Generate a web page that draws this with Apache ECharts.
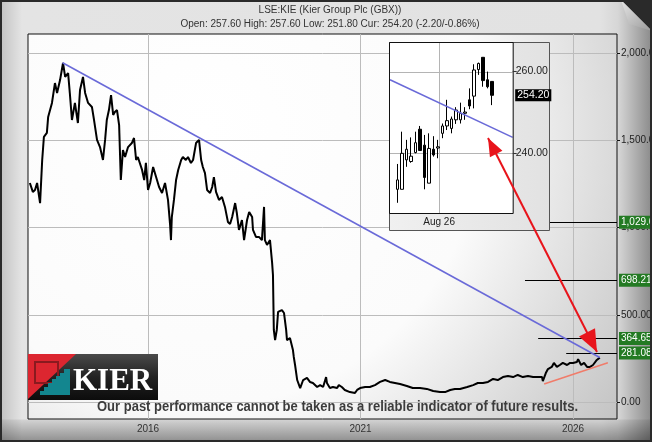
<!DOCTYPE html>
<html><head><meta charset="utf-8">
<script src="https://cdn.jsdelivr.net/npm/echarts@6/dist/echarts.min.js"></script>
<style>
html,body{margin:0;padding:0;background:#fff;}
#c{width:652px;height:442px;
background:
 linear-gradient(to bottom, rgba(0,0,0,0) 0px, rgba(0,0,0,0) 419px, rgba(0,0,0,0.08) 420px, rgba(0,0,0,0.38) 442px),
 linear-gradient(to right, #c2c2c2 0px, #e4e4e4 22px, #e2e2e2 600px, #d6d6d6 618px, #8a8a8a 652px);}
</style></head><body><div id="c"></div>
<script>
// ---- main price series (GBX) ----
const priceYears = [2013.22,2013.29,2013.34,2013.39,2013.46,2013.51,2013.55,2013.62,2013.65,2013.74,
2013.81,2013.86,2013.93,2014.00,2014.05,2014.12,2014.16,2014.21,2014.28,2014.35,
2014.40,2014.47,2014.52,2014.59,2014.68,2014.73,2014.80,2014.87,2014.94,2014.99,
2015.03,2015.08,2015.13,2015.18,2015.22,2015.27,2015.32,2015.36,2015.41,2015.46,
2015.53,2015.62,2015.67,2015.72,2015.76,2015.86,2015.91,2015.95,2016.00,2016.05,
2016.12,2016.19,2016.26,2016.33,2016.40,2016.47,2016.52,2016.54,2016.56,2016.61,
2016.66,2016.71,2016.78,2016.82,2016.89,2016.94,2017.01,2017.06,2017.13,2017.20,
2017.25,2017.29,2017.34,2017.39,2017.46,2017.51,2017.55,2017.60,2017.67,2017.74,
2017.81,2017.88,2017.93,2017.98,2018.05,2018.09,2018.14,2018.21,2018.26,2018.33,
2018.38,2018.45,2018.47,2018.54,2018.61,2018.68,2018.73,2018.75,2018.80,2018.87,
2018.92,2018.94,2018.96,2018.99,2019.03,2019.06,2019.15,2019.20,2019.25,2019.27,
2019.34,2019.41,2019.43,2019.46,2019.51,2019.58,2019.62,2019.65,2019.74,2019.81,
2019.88,2019.98,2020.05,2020.12,2020.19,2020.21,2020.28,2020.35,2020.45,2020.49,
2020.56,2020.63,2020.75,2020.87,2020.92,2020.99,2021.11,2021.22,2021.34,2021.46,
2021.58,2021.69,2021.81,2021.93,2022.09,2022.23,2022.40,2022.56,2022.71,2022.87,
2022.99,2023.11,2023.22,2023.34,2023.51,2023.65,2023.76,2023.88,2024.00,2024.12,
2024.23,2024.35,2024.47,2024.59,2024.70,2024.82,2024.94,2025.06,2025.18,2025.27,
2025.29,2025.36,2025.41,2025.50,2025.55,2025.62,2025.69,2025.76,2025.86,2025.93,
2026.00,2026.09,2026.12,2026.19,2026.26,2026.33,2026.40,2026.47,2026.56,2026.63];
const priceValues = [1255,1204,1215,1255,1140,1387,1519,1542,1633,1714,
1828,1771,1845,1943,1863,1885,1771,1616,1714,1599,
1788,1863,1771,1714,1691,1616,1502,1461,1387,1502,
1616,1673,1759,1645,1662,1673,1587,1272,1444,1404,
1461,1484,1513,1387,1404,1330,1272,1370,1215,1255,
1347,1289,1232,1198,1255,1158,1014,928,1060,1158,
1272,1330,1387,1404,1387,1404,1370,1387,1484,1502,
1387,1347,1312,1215,1198,1232,1289,1204,1158,1175,
1118,1032,1020,1060,1140,1083,986,1043,928,1043,
1089,1060,986,946,946,928,1118,928,900,928,
797,728,413,355,413,516,527,510,413,355,
367,298,258,212,126,80,69,126,138,115,
109,86,97,86,143,109,80,86,80,97,
86,69,57,52,69,80,86,86,97,115,
126,115,109,103,92,80,80,75,63,57,
57,69,75,75,86,97,109,109,115,132,
126,143,149,143,155,143,149,143,143,143,
120,166,189,201,224,201,212,224,212,224,
224,229,246,212,224,201,201,212,241,254.2];

// ---- trend lines ----
const blueTrendYears = [2013.99, 2026.63];
const blueTrendValues = [1944, 255];
const redTrendYears = [2025.32, 2026.82];
const redTrendValues = [103, 225];

// ---- target levels ----
const levelValues = [1029.60, 698.21, 364.65, 281.08];
const levelStartYears = [2025.41, 2024.87, 2025.18, 2025.84];
const levelLabels = ['1,029.60', '698.21', '364.65', '281.08'];
const currentPrice = 254.20;
const currentLabel = '254.20';

// ---- axes ----
const yTickValues = [0, 500, 1000, 1500, 2000];
const yTickLabels = ['0.00', '500.00', '1,000.00', '1,500.00', '2,000.00'];
const xTickValues = [2016, 2021, 2026];
const xTickLabels = ['2016', '2021', '2026'];

// ---- inset candles (trading days, Jul-Aug 2026) ----
const insetIndex = [0,1,2,3,4,5,6,7,8,9,10,11,12,13,14,15,16,17,18,19,20,21];
const insetOpen  = [231.2,231.2,238.4,238.0,240.2,245.9,242.0,232.7,241.0,241.3,244.9,246.7,246.1,248.2,248.2,249.8,253.1,254.0,260.5,263.5,258.0,257.6];
const insetClose = [233.5,240.0,241.0,239.3,242.6,240.7,234.1,241.2,239.6,241.6,246.7,248.0,248.4,250.6,249.8,250.1,251.6,260.4,262.0,257.8,256.3,254.2];
const insetLow   = [227.9,231.2,236.7,237.7,240.0,240.7,231.2,232.7,239.2,238.8,243.7,245.7,244.9,247.2,247.3,248.2,250.8,251.0,259.2,256.3,255.9,251.8];
const insetHigh  = [237.4,245.3,243.3,243.9,245.3,246.7,244.5,244.9,244.2,243.3,247.3,253.1,249.0,251.3,252.4,251.3,255.9,261.8,262.2,263.5,260.0,257.6];
const insetYTickValues = [240, 260];
const insetYTickLabels = ['240.00', '260.00'];
const insetXTickValues = [9.3];
const insetXTickLabels = ['Aug 26'];
const insetTrendX = [-1.62, 25.65];
const insetTrendValues = [258.0, 243.9];

const titleLine1 = 'LSE:KIE (Kier Group Plc (GBX))';
const titleLine2 = 'Open: 257.60 High: 257.60 Low: 251.80 Cur: 254.20 (-2.20/-0.86%)';
const disclaimer = 'Our past performance cannot be taken as a reliable indicator of future results.';

// ---------------------------------------------------------------
const X_MIN = 2013.176, X_MAX = 2027.035;
const Y_MIN = -97.4, Y_MAX = 2109;
const IX_MIN = -1.62, IX_MAX = 25.65;
const IY_MIN = 225.4, IY_MAX = 267;
const INSET = {left: 390, top: 43, width: 122.7, height: 170};
// linear scales of the inset axes (same ranges as the inset xAxis / yAxis below)
const insetPX = x => INSET.left + (x - IX_MIN) / (IX_MAX - IX_MIN) * INSET.width;
const insetPY = y => INSET.top + (IY_MAX - y) / (IY_MAX - IY_MIN) * INSET.height;

const chart = echarts.init(document.getElementById('c'), null, {renderer: 'canvas'});

const priceData = priceYears.map((y, i) => [y, priceValues[i]]);
const blueData = blueTrendYears.map((y, i) => [y, blueTrendValues[i]]);
const redData = redTrendYears.map((y, i) => [y, redTrendValues[i]]);
const candleData = insetIndex.map((d, i) => [d, insetOpen[i], insetClose[i], insetLow[i], insetHigh[i]]);
const insetTrend = insetTrendX.map((x, i) => [x, insetTrendValues[i]]);

const gridLineStyle = {color: '#bcbcbc', width: 1, type: 'solid'};
const hLine = (v, x0, x1) => [{coord: [x0, v]}, {coord: [x1, v]}];
const vLine = (v, y0, y1) => [{coord: [v, y0]}, {coord: [v, y1]}];
const mainGridLines = yTickValues.map(v => hLine(v, X_MIN, X_MAX))
  .concat(xTickValues.map(v => vLine(v, Y_MIN, Y_MAX)));

const levelLines = [[
  {coord: [X_MAX - 0.12, currentPrice], lineStyle: {opacity: 0},
   label: {formatter: currentLabel, backgroundColor: '#000'}},
  {coord: [X_MAX, currentPrice]}
]].concat(levelValues.map((v, i) => [
  {coord: [levelStartYears[i], v], label: {formatter: levelLabels[i]}},
  {coord: [X_MAX, v]}
]));

function arrowHead(tx, ty, fx, fy, len, half) {
  const dx = tx - fx, dy = ty - fy, L = Math.hypot(dx, dy);
  const ux = dx / L, uy = dy / L;
  const bx = tx - ux * len, by = ty - uy * len;
  return [[tx, ty], [bx - uy * half, by + ux * half], [bx + uy * half, by - ux * half]];
}
const aTop = [488, 138], aBot = [597, 352];

// scale disclaimer to the reference's width
const discFont = 'bold 14px "Liberation Sans", Arial, sans-serif';
const mctx = document.createElement('canvas').getContext('2d');
mctx.font = discFont;
const discScale = 481 / mctx.measureText(disclaimer).width;

// inset grid lines drawn as thin rects (1px high / wide)
const insetGridGraphics = insetYTickValues.map(v => {
  const yy = Math.round(insetPY(v));
  return {type: 'rect', z: 5, silent: true, shape: {x: INSET.left, y: yy, width: INSET.width, height: 1},
    style: {fill: '#b4b4b4'}};
}).concat(insetXTickValues.map(v => {
  const xx = Math.round(insetPX(v));
  return {type: 'rect', z: 5, silent: true, shape: {x: xx, y: INSET.top, width: 1, height: INSET.height},
    style: {fill: '#b4b4b4'}};
}));

const graphicElements = [
    // inset panel + white plot area
    {type: 'rect', shape: {x: 389.5, y: 42.5, width: 160, height: 188}, z: 3,
     style: {fill: {type: 'linear', x: 0, y: 0, x2: 1, y2: 0, colorStops: [
       {offset: 0, color: '#f0f0f0'}, {offset: 1, color: '#e2e2e2'}]}, stroke: '#555', lineWidth: 1}},
    {type: 'rect', shape: {x: INSET.left, y: INSET.top, width: INSET.width, height: INSET.height}, z: 4,
     style: {fill: '#ffffff'}},
    {type: 'rect', shape: {x: INSET.left - 0.5, y: INSET.top - 0.5, width: INSET.width + 1, height: INSET.height + 1}, z: 8,
     silent: true, style: {fill: 'none', stroke: '#111', lineWidth: 1}},
    {type: 'text', z: 9, silent: true, x: insetPX(IX_MAX) + 2.5, y: insetPY(currentPrice),
     style: {text: currentLabel, fill: '#fff', backgroundColor: '#000', padding: [1, 2, 0, 2],
       font: '10.5px "Liberation Sans", Arial, sans-serif', textAlign: 'left', textVerticalAlign: 'middle'}},
    // arrow
    {type: 'line', shape: {x1: aTop[0], y1: aTop[1], x2: aBot[0], y2: aBot[1]}, z: 20,
     style: {stroke: '#e8141b', lineWidth: 2}},
    {type: 'polygon', shape: {points: arrowHead(aTop[0], aTop[1], aBot[0], aBot[1], 18, 7)}, z: 20,
     style: {fill: '#e8141b'}},
    {type: 'polygon', shape: {points: arrowHead(aBot[0], aBot[1], aTop[0], aTop[1], 22, 9)}, z: 20,
     style: {fill: '#e8141b'}},
    // title
    {type: 'text', x: 330, y: 10, z: 20, style: {text: titleLine1, fill: '#333', font: '10px "Liberation Sans", Arial, sans-serif',
      textAlign: 'center', textVerticalAlign: 'middle'}},
    {type: 'text', x: 330, y: 24, z: 20, style: {text: titleLine2, fill: '#333', font: '10px "Liberation Sans", Arial, sans-serif',
      textAlign: 'center', textVerticalAlign: 'middle'}},
    // logo
    {type: 'rect', shape: {x: 28, y: 354, width: 130, height: 46}, z: 20,
     style: {fill: {type: 'linear', x: 0, y: 0, x2: 0, y2: 1, colorStops: [
       {offset: 0, color: '#4a4a4a'}, {offset: 0.5, color: '#222'}, {offset: 1, color: '#0c0c0c'}]}}},
    {type: 'polygon', shape: {points: [[28, 354], [76, 354], [28, 399]]}, z: 21, style: {fill: '#dc2630'}},
    {type: 'rect', shape: {x: 35, y: 362, width: 23, height: 21}, z: 22, style: {fill: 'none', stroke: '#8a1a1f', lineWidth: 2}},
    {type: 'polygon', shape: {points: [[70, 369], [70, 395], [40, 395], [40, 391], [44, 391], [44, 387], [48, 387], [48, 383],
      [52, 383], [52, 379], [56, 379], [56, 376], [60, 376], [60, 373], [64, 373], [64, 369]]}, z: 23, style: {fill: '#13868f'}},
    {type: 'text', x: 73, y: 382, z: 24, style: {text: 'KIER', fill: '#fff', font: 'bold 31px "Liberation Serif", "DejaVu Serif", serif',
      textAlign: 'left', textVerticalAlign: 'middle'}},
    // disclaimer
    {type: 'text', x: 337.5, y: 407, z: 20, scaleX: discScale, style: {text: disclaimer, fill: '#3c3c3c',
      font: discFont, textAlign: 'center', textVerticalAlign: 'middle'}},
    // corner curl and frame
    {type: 'polygon', shape: {points: [[621, 0], [652, 0], [652, 31]]}, z: 30, style: {fill: '#2a2a2a'}},
    {type: 'polygon', shape: {points: [[621, 0], [652, 31], [629, 24]]}, z: 30,
     style: {fill: {type: 'linear', x: 0, y: 0, x2: 1, y2: 1, colorStops: [{offset: 0, color: '#e6e6e6'}, {offset: 1, color: '#9a9a9a'}]}}},
    {type: 'rect', shape: {x: 1, y: 1, width: 650, height: 440}, z: 30, style: {fill: 'none', stroke: '#2a2a2a', lineWidth: 2}}
].concat(insetGridGraphics);

const option = {
  animation: false,
  textStyle: {fontFamily: 'Liberation Sans, Arial, sans-serif'},
  grid: [
    {left: 28, top: 34, width: 589, height: 385, containLabel: false, outerBoundsMode: 'none',
     show: true, borderColor: '#111', borderWidth: 1, z: 0,
     backgroundColor: {type: 'radial', x: 0.3, y: 0.25, r: 1.3, colorStops: [
       {offset: 0, color: '#ffffff'}, {offset: 0.55, color: '#fbfbfb'}, {offset: 1, color: '#c4c4c4'}]}},
    {left: INSET.left, top: INSET.top, width: INSET.width, height: INSET.height, containLabel: false,
     outerBoundsMode: 'none', show: false}
  ],
  xAxis: [
    {type: 'value', gridIndex: 0, min: X_MIN, max: X_MAX, z: 0,
     axisLine: {show: false, onZero: false}, splitLine: {show: false},
     axisTick: {show: true, inside: true, length: 3, customValues: xTickValues, lineStyle: {color: '#333'}},
     axisLabel: {customValues: xTickValues, margin: 5, fontSize: 10, color: '#333',
       formatter: v => xTickLabels[xTickValues.indexOf(v)] || ''}},
    {type: 'value', gridIndex: 1, min: IX_MIN, max: IX_MAX, z: 5,
     axisLine: {show: false, onZero: false}, splitLine: {show: false}, axisTick: {show: false},
     axisLabel: {customValues: insetXTickValues, margin: 4, fontSize: 10, color: '#222',
       formatter: v => insetXTickLabels[0]}}
  ],
  yAxis: [
    {type: 'value', gridIndex: 0, position: 'right', min: Y_MIN, max: Y_MAX, z: 0,
     axisLine: {show: false, onZero: false}, splitLine: {show: false},
     axisTick: {show: true, length: 3, customValues: yTickValues, lineStyle: {color: '#111'}},
     axisLabel: {customValues: yTickValues, margin: 4, fontSize: 10, color: '#222',
       formatter: v => yTickLabels[yTickValues.indexOf(v)] || ''}},
    {type: 'value', gridIndex: 1, position: 'right', min: IY_MIN, max: IY_MAX, z: 9,
     axisLine: {show: false, onZero: false}, splitLine: {show: false},
     axisTick: {show: true, length: 4, customValues: insetYTickValues, lineStyle: {color: '#333'}},
     axisLabel: {customValues: insetYTickValues, margin: 3, fontSize: 10.5, color: '#222',
       formatter: v => insetYTickLabels[insetYTickValues.indexOf(v)] || ''}}
  ],
  series: [
    {type: 'line', name: 'grid', xAxisIndex: 0, yAxisIndex: 0, data: [], z: 1, silent: true,
     markLine: {silent: true, symbol: ['none', 'none'], label: {show: false}, z: 1,
       lineStyle: gridLineStyle, data: mainGridLines}},
    {type: 'line', name: 'Kier', xAxisIndex: 0, yAxisIndex: 0, data: priceData, z: 2,
     showSymbol: false, symbol: 'none', lineStyle: {color: '#000', width: 2}},
    {type: 'line', name: 'resistance', xAxisIndex: 0, yAxisIndex: 0, data: blueData, z: 2,
     showSymbol: false, symbol: 'none', lineStyle: {color: '#6a6ad8', width: 1.6}},
    {type: 'line', name: 'support', xAxisIndex: 0, yAxisIndex: 0, data: redData, z: 2,
     showSymbol: false, symbol: 'none', lineStyle: {color: '#f07c6a', width: 1.6}},
    {type: 'line', name: 'levels', xAxisIndex: 0, yAxisIndex: 0, data: [], z: 2, silent: true,
     markLine: {silent: true, symbol: ['none', 'none'], z: 2,
       lineStyle: {color: '#000', width: 1, type: 'solid'},
       label: {show: true, position: 'end', distance: 2, color: '#fff', fontSize: 10,
         backgroundColor: '#237a23', padding: [1, 2, 0, 2], lineHeight: 12},
       data: levelLines}},
    {type: 'candlestick', name: 'insetCandles', xAxisIndex: 1, yAxisIndex: 1, z: 6,
     dimensions: ['idx', 'open', 'close', 'lowest', 'highest'],
     encode: {x: 'idx', y: ['open', 'close', 'lowest', 'highest']},
     data: candleData, barWidth: 3,
     itemStyle: {color: '#ffffff', color0: '#000000', borderColor: '#000', borderColor0: '#000', borderWidth: 1}},
    {type: 'line', name: 'insetTrend', xAxisIndex: 1, yAxisIndex: 1, data: insetTrend, z: 7,
     showSymbol: false, symbol: 'none', lineStyle: {color: '#6a6ad8', width: 1.6}}
  ],
  graphic: {elements: graphicElements}
};
chart.setOption(option);
</script>
</body></html>
